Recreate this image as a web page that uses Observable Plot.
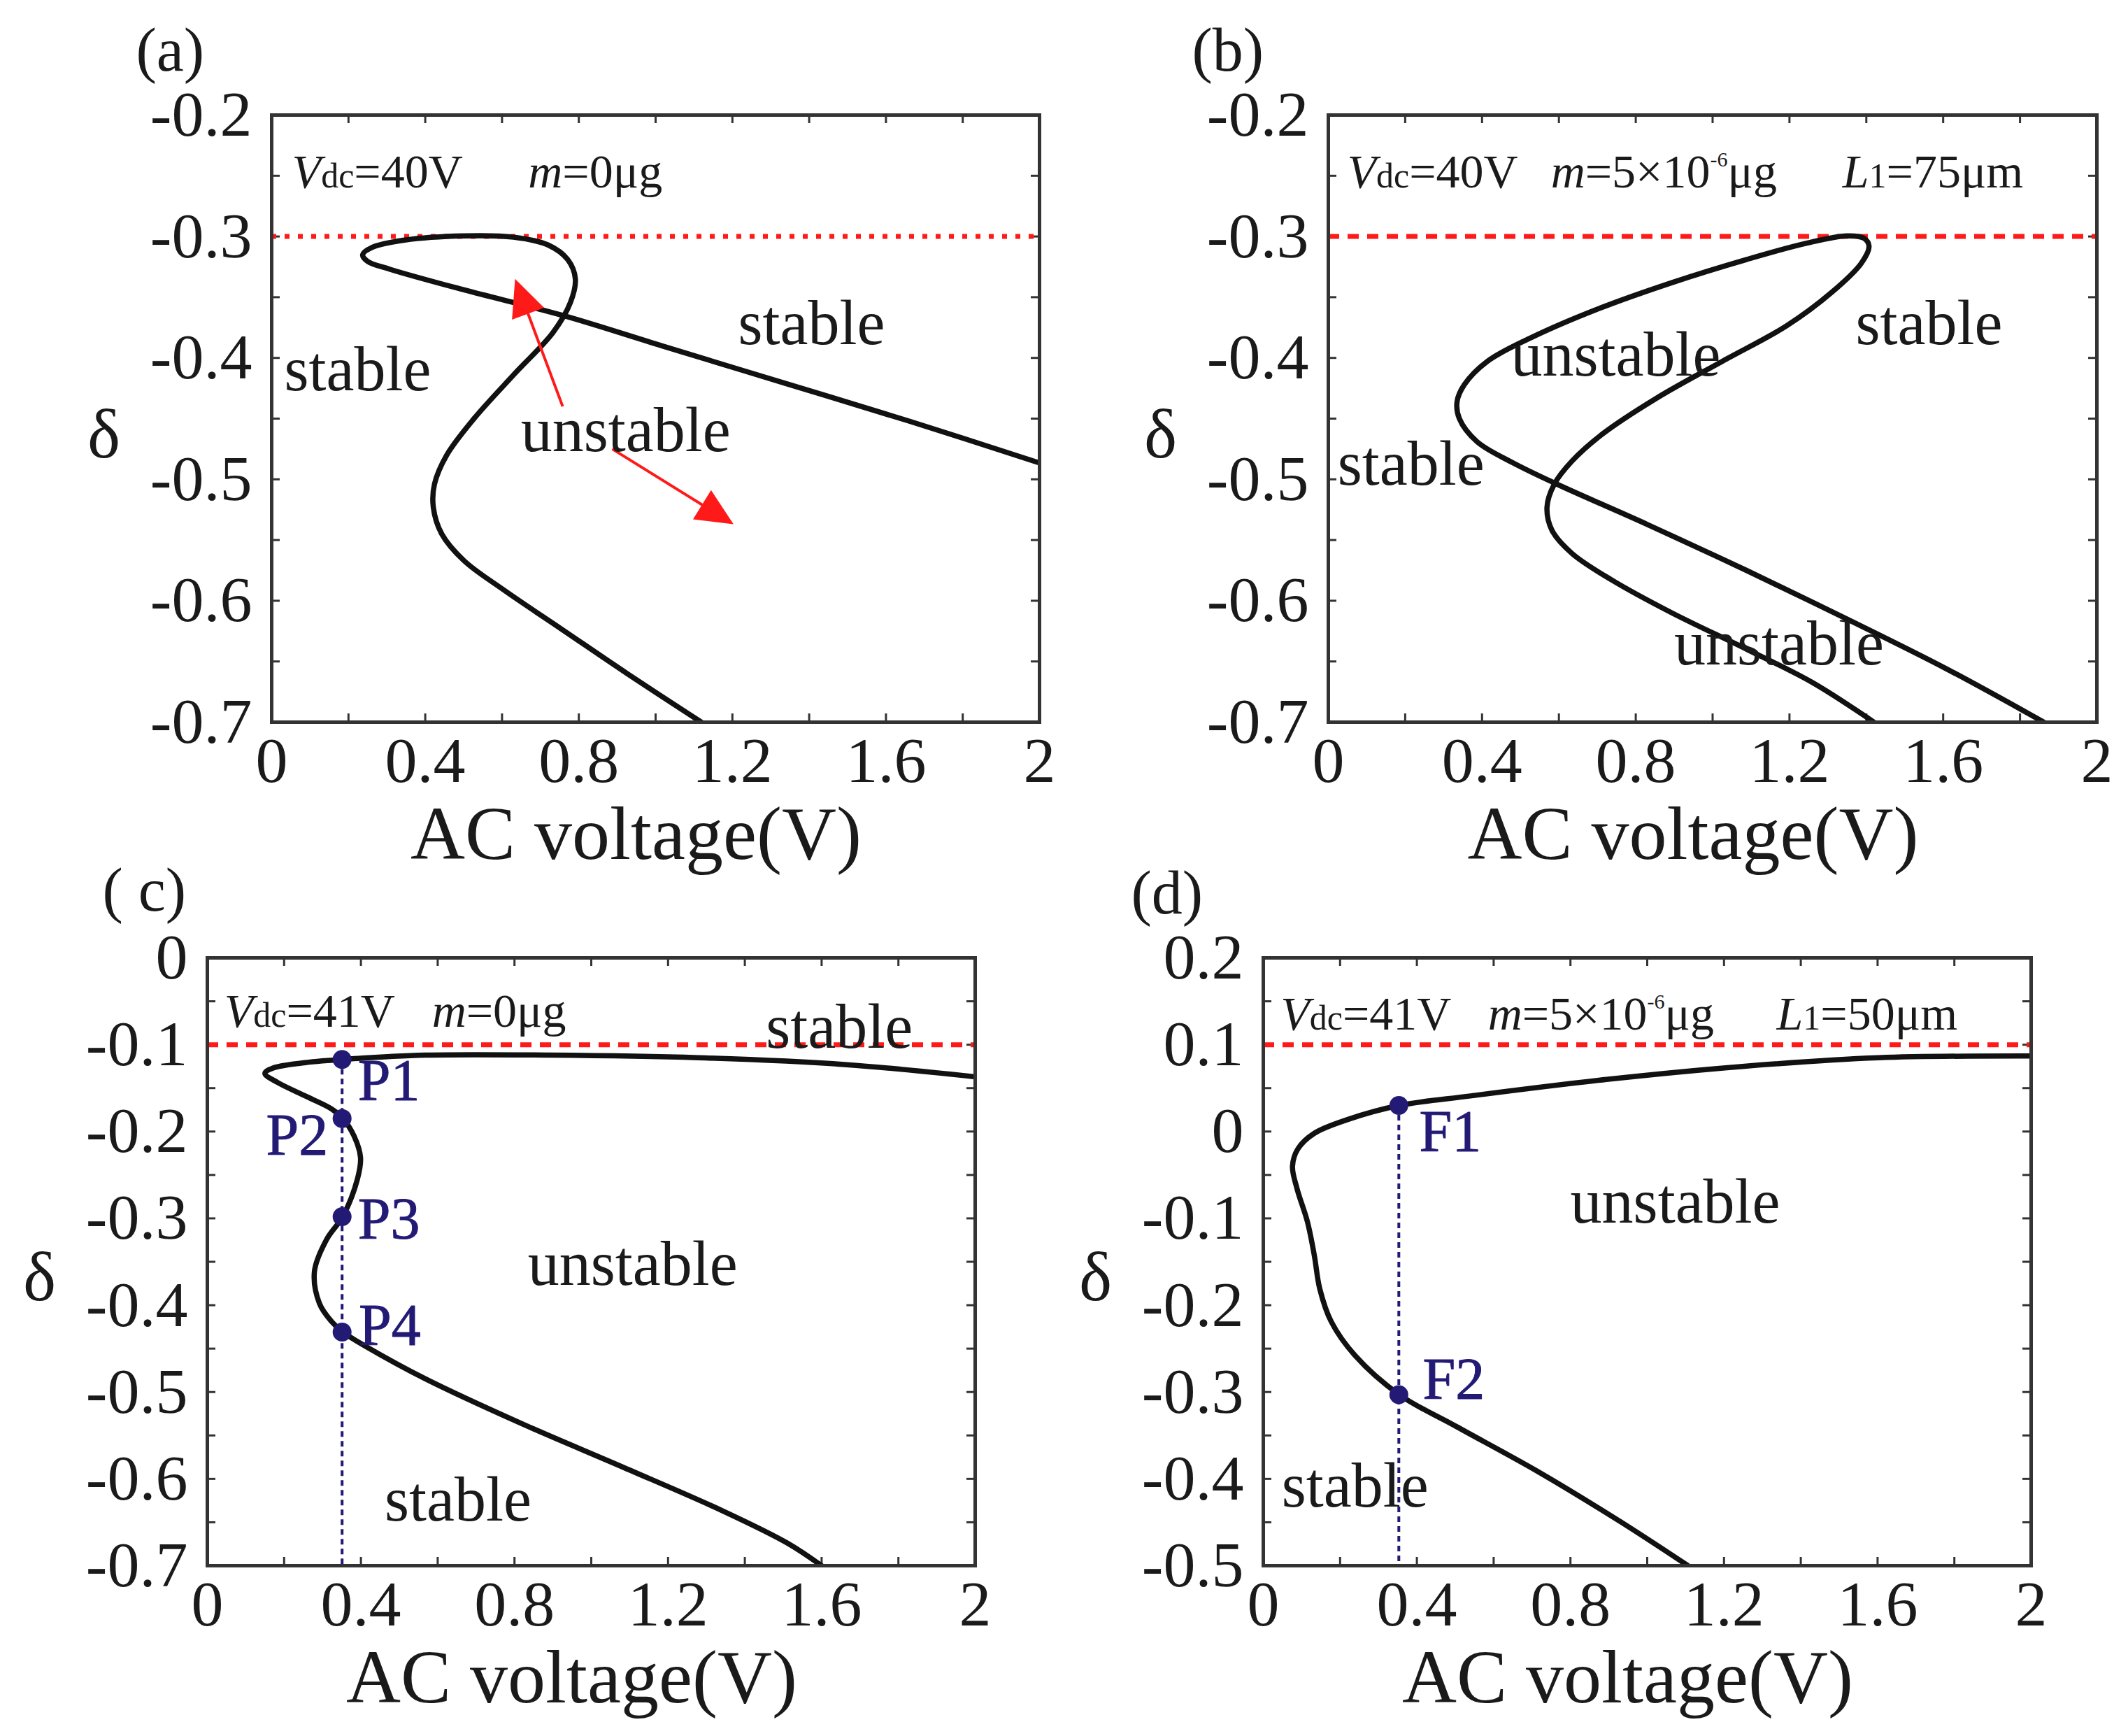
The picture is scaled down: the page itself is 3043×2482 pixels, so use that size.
<!DOCTYPE html>
<html><head><meta charset="utf-8">
<script src="https://cdn.jsdelivr.net/npm/d3@7"></script>
<script src="https://cdn.jsdelivr.net/npm/@observablehq/plot@0.6"></script>
<style>
body{margin:0;background:#fff;}
#fig{position:relative;width:3043px;height:2482px;background:#fff;}
#fig > .panel{position:absolute;}
</style></head><body><div id="fig"></div>
<script>
// ---------- data ----------
const xTicks = [0, 0.4, 0.8, 1.2, 1.6, 2];
const xMinor = [0, 0.2, 0.4, 0.6, 0.8, 1.0, 1.2, 1.4, 1.6, 1.8, 2.0];
const yTicksA = [-0.2, -0.3, -0.4, -0.5, -0.6, -0.7];
const yTicksC = [0, -0.1, -0.2, -0.3, -0.4, -0.5, -0.6, -0.7];
const yTicksD = [0.2, 0.1, 0, -0.1, -0.2, -0.3, -0.4, -0.5];

// (a) Vdc=40V, m=0
const curveAX = [1.995, 1.660, 1.338, 1.016, 0.758, 0.501, 0.308, 0.250, 0.237, 0.262, 0.346, 0.501, 0.630, 0.720, 0.771, 0.791, 0.778, 0.733, 0.630, 0.527, 0.456, 0.424, 0.421, 0.443, 0.501, 0.604, 0.758, 0.926, 1.119];
const curveAY = [-0.486, -0.452, -0.421, -0.390, -0.365, -0.344, -0.327, -0.3205, -0.315, -0.309, -0.303, -0.2995, -0.3006, -0.307, -0.319, -0.335, -0.3545, -0.379, -0.414, -0.450, -0.480, -0.504, -0.523, -0.545, -0.567, -0.591, -0.624, -0.660, -0.700];
// (b) Vdc=40V, m=5e-6, L1=75
const curveBX = [1.862, 1.608, 1.349, 1.088, 0.829, 0.595, 0.478, 0.387, 0.341, 0.335, 0.354, 0.413, 0.530, 0.699, 0.894, 1.088, 1.245, 1.349, 1.394, 1.407, 1.387, 1.310, 1.193, 1.024, 0.855, 0.712, 0.634, 0.588, 0.569, 0.582, 0.634, 0.738, 0.894, 1.089, 1.258, 1.420];
const curveBY = [-0.700, -0.656, -0.615, -0.575, -0.537, -0.504, -0.486, -0.469, -0.450, -0.436, -0.422, -0.403, -0.383, -0.360, -0.338, -0.319, -0.3055, -0.2995, -0.3015, -0.308, -0.322, -0.346, -0.3735, -0.403, -0.433, -0.463, -0.485, -0.504, -0.523, -0.542, -0.561, -0.583, -0.610, -0.640, -0.667, -0.700];
// (c) Vdc=41V, m=0
const curveCX = [2.0, 1.665, 1.279, 0.892, 0.569, 0.350, 0.247, 0.170, 0.150, 0.183, 0.260, 0.324, 0.353, 0.382, 0.399, 0.391, 0.353, 0.311, 0.279, 0.292, 0.324, 0.353, 0.415, 0.569, 0.827, 1.085, 1.343, 1.511, 1.600];
const curveCY = [-0.137, -0.123, -0.115, -0.112, -0.112, -0.117, -0.121, -0.127, -0.133, -0.1435, -0.160, -0.174, -0.185, -0.205, -0.230, -0.2545, -0.2976, -0.324, -0.361, -0.398, -0.419, -0.431, -0.448, -0.485, -0.538, -0.587, -0.637, -0.674, -0.700];
// (d) Vdc=41V, m=5e-6, L1=50
const curveDX = [2.0, 1.602, 1.248, 0.894, 0.540, 0.354, 0.221, 0.133, 0.090, 0.076, 0.088, 0.115, 0.133, 0.147, 0.177, 0.239, 0.354, 0.504, 0.717, 0.929, 1.106];
const curveDY = [0.087, 0.085, 0.075, 0.060, 0.041, 0.030, 0.014, -0.002, -0.020, -0.040, -0.066, -0.104, -0.143, -0.181, -0.219, -0.258, -0.303, -0.340, -0.392, -0.449, -0.500];

const refLineY = [-0.3, -0.3, -0.1, 0.1];

const labelsAText = ["stable", "stable", "unstable"];
const labelsAX = [1.406, 0.224, 0.922];
const labelsAY = [-0.372, -0.410, -0.460];
const labelsBText = ["stable", "unstable", "stable", "unstable"];
const labelsBX = [1.563, 0.748, 0.215, 1.173];
const labelsBY = [-0.372, -0.398, -0.488, -0.636];
const labelsCText = ["stable", "unstable", "stable"];
const labelsCX = [1.646, 1.108, 0.653];
const labelsCY = [-0.080, -0.353, -0.625];
const labelsDText = ["unstable", "stable"];
const labelsDX = [1.073, 0.239];
const labelsDY = [-0.082, -0.409];

const paramsA = ["*V*[dc]=40V", "*m*=0μg"];
const paramsAX = [0.053, 0.668];
const paramsB = ["*V*[dc]=40V", "*m*=5×10^-6^μg", "*L*[1]=75μm"];
const paramsBX = [0.049, 0.579, 1.338];
const paramsC = ["*V*[dc]=41V", "*m*=0μg"];
const paramsCX = [0.044, 0.585];
const paramsD = ["*V*[dc]=41V", "*m*=5×10^-6^μg", "*L*[1]=50μm"];
const paramsDX = [0.045, 0.585, 1.337];
const paramsY = [-0.247, -0.247, -0.062, 0.135];

const pointsCName = ["P1", "P2", "P3", "P4"];
const pointsCX = 0.351;
const pointsCY = [-0.117, -0.185, -0.298, -0.431];
const pointsCLabelX = [0.473, 0.234, 0.473, 0.475];
const pointsCLabelY = [-0.142, -0.205, -0.302, -0.424];
const pointsDName = ["F1", "F2"];
const pointsDX = 0.353;
const pointsDY = [0.030, -0.303];
const pointsDLabelX = [0.487, 0.496];
const pointsDLabelY = [-0.001, -0.286];

const arrowX1 = [0.758, 0.887];
const arrowY1 = [-0.440, -0.475];
const arrowX2 = [0.634, 1.203];
const arrowY2 = [-0.335, -0.537];

// ---------- drawing ----------
const FONT = "'Liberation Serif', 'Times New Roman', serif";
const RED = "#ff1a1a";
const NAVY = "#221a74";
const INK = "#1a1a1a";

// narrow filled arrow-head symbol (tip up)
const arrowHead = {
  draw(context, size) {
    const r = Math.sqrt(size / Math.PI);
    context.moveTo(0, -1.2 * r);
    context.lineTo(0.98 * r, 0.92 * r);
    context.lineTo(-0.98 * r, 0.92 * r);
    context.closePath();
  }
};

function zip(xs, ys, extra) {
  return xs.map((x, i) => ({x, y: ys[i], t: extra ? extra[i] : undefined}));
}

function makePanel(cfg) {
  const {width, height, mt, mr, mb, ml, yDomain, yTicks, curveX, curveY, refY, dash, tag, tagDx, tagDy,
         labelText, labelX, labelY, params, paramsX, paramY, points, arrows} = cfg;
  const pxX = (width - ml - mr) / 2;
  const pxY = (height - mt - mb) / (yDomain[1] - yDomain[0]);
  const tx = 12 / pxX, ty = 12 / pxY;
  const y0 = yDomain[0], y1 = yDomain[1];
  const yMinor = d3.range(Math.round(y0 * 20), Math.round(y1 * 20) + 1).map(k => k / 20);
  const fmt = d => String(+d.toFixed(2));
  const tickStyle = {stroke: "#333", strokeWidth: 3};
  const marks = [
    Plot.ruleX(xMinor, {x: d => d, y1: y0, y2: y0 + ty, ...tickStyle}),
    Plot.ruleX(xMinor, {x: d => d, y1: y1, y2: y1 - ty, ...tickStyle}),
    Plot.ruleY(yMinor, {y: d => d, x1: 0, x2: tx, ...tickStyle}),
    Plot.ruleY(yMinor, {y: d => d, x1: 2, x2: 2 - tx, ...tickStyle}),
    Plot.axisX(xTicks, {anchor: "bottom", tickSize: 0, tickPadding: 20, fontSize: 92, tickFormat: fmt, label: null}),
    Plot.axisY(yTicks, {anchor: "left", tickSize: 0, tickPadding: 28, fontSize: 92, tickFormat: fmt, label: null}),
    Plot.ruleY([refY], {y: d => d, stroke: RED, strokeWidth: 7, strokeDasharray: dash})
  ];
  if (points) {
    const top = d3.max(points.ys);
    marks.push(Plot.ruleX([points.x], {x: d => d, y1: top, y2: y0, stroke: NAVY, strokeWidth: 4, strokeDasharray: "8,6"}));
  }
  marks.push(Plot.line(zip(curveX, curveY), {x: "x", y: "y", curve: "catmull-rom", stroke: "#111", strokeWidth: 7.5, strokeLinejoin: "round", strokeLinecap: "round", clip: true}));
  if (points) {
    marks.push(Plot.dot(points.ys.map(y => ({x: points.x, y})), {x: "x", y: "y", r: 13.5, fill: NAVY, stroke: "none"}));
    marks.push(Plot.text(zip(points.lx, points.ly, points.names), {x: "x", y: "y", text: "t", fontSize: 84, fill: NAVY, stroke: NAVY, strokeWidth: 1, textAnchor: "middle"}));
  }
  if (arrows) {
    const R = 25, back = 1.2 * R;
    const data = arrows.x1.map((_, i) => {
      const sx = (arrows.x2[i] - arrows.x1[i]) * pxX, sy = -(arrows.y2[i] - arrows.y1[i]) * pxY;
      const L = Math.hypot(sx, sy), ux = sx / L, uy = sy / L;
      return {x1: arrows.x1[i], y1: arrows.y1[i],
              cx: arrows.x2[i] - back * ux / pxX, cy: arrows.y2[i] + back * uy / pxY,
              rot: Math.atan2(ux, -uy) * 180 / Math.PI};
    });
    marks.push(Plot.link(data, {x1: "x1", y1: "y1", x2: "cx", y2: "cy", stroke: RED, strokeWidth: 4}));
    marks.push(Plot.dot(data, {x: "cx", y: "cy", symbol: arrowHead, r: R, fill: RED, stroke: "none", rotate: "rot"}));
  }
  marks.push(Plot.text(zip(labelX, labelY, labelText), {x: "x", y: "y", text: "t", fontSize: 90, fill: INK, textAnchor: "middle"}));
  marks.push(Plot.text(params.map((p, i) => ({x: paramsX[i], y: paramY, t: p})), {x: "x", y: "y", text: "t", fontSize: 68, fill: INK, textAnchor: "start"}));
  marks.push(Plot.frame({stroke: "#333", strokeWidth: 5}));
  marks.push(Plot.text([tag], {text: d => d, frameAnchor: "top-left", lineAnchor: "middle", dx: tagDx, dy: tagDy, fontSize: 88, fill: INK, textAnchor: "start"}));
  marks.push(Plot.text(["δ"], {text: d => d, frameAnchor: "left", lineAnchor: "middle", dx: -240, dy: 23, fontSize: 100, fill: INK, textAnchor: "middle"}));
  marks.push(Plot.text(["AC voltage(V)"], {text: d => d, frameAnchor: "bottom", lineAnchor: "middle", dx: -28, dy: 161, fontSize: 108, fill: INK, textAnchor: "middle"}));

  const svg = Plot.plot({
    width, height, marginTop: mt, marginRight: mr, marginBottom: mb, marginLeft: ml,
    x: {domain: [0, 2]},
    y: {domain: yDomain},
    style: {fontFamily: FONT, color: INK, background: "transparent", overflow: "visible"},
    marks
  });
  richify(svg);
  return svg;
}

// turn *italic*, [small] and ^super^ markup into tspans
function richify(svg) {
  const ns = "http://www.w3.org/2000/svg";
  svg.querySelectorAll("text").forEach(t => {
    const s = t.textContent;
    if (!/[*\[\^]/.test(s)) return;
    while (t.firstChild) t.removeChild(t.firstChild);
    const re = /\*([^*]+)\*|\[([^\]]+)\]|\^([^^]+)\^|([^*\[\^]+)/g;
    let m, lift = 0;
    while ((m = re.exec(s))) {
      const ts = document.createElementNS(ns, "tspan");
      let text, dy = 0;
      if (m[1]) { text = m[1]; ts.setAttribute("font-style", "italic"); }
      else if (m[2]) { text = m[2]; ts.setAttribute("font-size", "50"); }
      else if (m[3]) { text = m[3]; ts.setAttribute("font-size", "30"); dy = -30; }
      else { text = m[4]; }
      const shift = dy - lift;
      if (shift) ts.setAttribute("dy", shift);
      lift = dy;
      ts.textContent = text;
      t.appendChild(ts);
    }
  });
}

const H = 1241;
const cfgs = [
  {left: 0, top: 0, width: 1521, height: H, mt: 164, mr: 35, mb: 209, ml: 388, yDomain: [-0.7, -0.2], yTicks: yTicksA,
   curveX: curveAX, curveY: curveAY, refY: refLineY[0], dash: "7,12", tag: "(a)", tagDx: -194, tagDy: -92,
   labelText: labelsAText, labelX: labelsAX, labelY: labelsAY, params: paramsA, paramsX: paramsAX, paramY: paramsY[0],
   arrows: {x1: arrowX1, y1: arrowY1, x2: arrowX2, y2: arrowY2}},
  {left: 1521, top: 0, width: 1522, height: H, mt: 164, mr: 45, mb: 209, ml: 378, yDomain: [-0.7, -0.2], yTicks: yTicksA,
   curveX: curveBX, curveY: curveBY, refY: refLineY[1], dash: "16,12", tag: "(b)", tagDx: -195, tagDy: -92,
   labelText: labelsBText, labelX: labelsBX, labelY: labelsBY, params: paramsB, paramsX: paramsBX, paramY: paramsY[1]},
  {left: 0, top: H, width: 1521, height: H, mt: 128, mr: 127, mb: 244, ml: 296, yDomain: [-0.7, 0], yTicks: yTicksC,
   curveX: curveCX, curveY: curveCY, refY: refLineY[2], dash: "16,12", tag: "( c)", tagDx: -150, tagDy: -96,
   labelText: labelsCText, labelX: labelsCX, labelY: labelsCY, params: paramsC, paramsX: paramsCX, paramY: paramsY[2],
   points: {x: pointsCX, ys: pointsCY, names: pointsCName, lx: pointsCLabelX, ly: pointsCLabelY}},
  {left: 1521, top: H, width: 1522, height: H, mt: 128, mr: 139, mb: 244, ml: 285, yDomain: [-0.5, 0.2], yTicks: yTicksD,
   curveX: curveDX, curveY: curveDY, refY: refLineY[3], dash: "16,12", tag: "(d)", tagDx: -189, tagDy: -92,
   labelText: labelsDText, labelX: labelsDX, labelY: labelsDY, params: paramsD, paramsX: paramsDX, paramY: paramsY[3],
   points: {x: pointsDX, ys: pointsDY, names: pointsDName, lx: pointsDLabelX, ly: pointsDLabelY}}
];

const fig = document.getElementById("fig");
for (const c of cfgs) {
  const div = document.createElement("div");
  div.className = "panel";
  div.style.left = c.left + "px";
  div.style.top = c.top + "px";
  div.appendChild(makePanel(c));
  fig.appendChild(div);
}
</script></body></html>
